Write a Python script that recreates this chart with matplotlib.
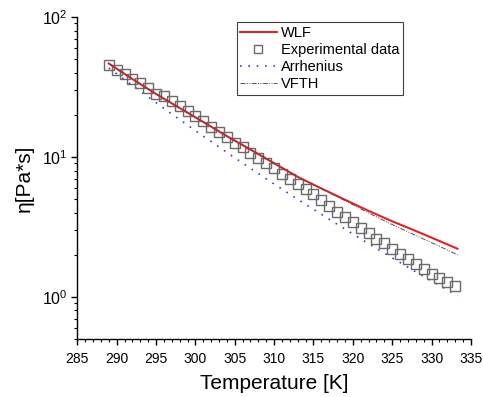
import matplotlib
matplotlib.use("Agg")
import matplotlib.pyplot as plt
from matplotlib.ticker import LogLocator, MultipleLocator, LogFormatterSciNotation

plt.rcParams['font.family'] = ['Liberation Sans', 'DejaVu Sans']
plt.rcParams['mathtext.default'] = 'regular'

# Experimental data
exp_T = list(range(289, 334))
exp_eta = [45.4, 41.8, 39.2, 36.1, 33.8, 31.1, 28.3, 27.3, 25.2, 23.1,
           21.3, 19.6, 18.2, 16.5, 15.2, 14.0, 12.6, 11.7, 10.6, 9.8,
           9.0, 8.3, 7.6, 7.0, 6.4, 5.9, 5.4, 4.9, 4.47, 4.07,
           3.73, 3.45, 3.13, 2.85, 2.61, 2.41, 2.21, 2.03, 1.86, 1.72,
           1.58, 1.46, 1.36, 1.27, 1.20]

# Model curves
model_T = [289, 292, 295, 298, 301, 304, 307, 310, 313, 316, 319, 322, 325, 328, 331, 333.3]
wlf_eta = [46.6, 36.1, 28.2, 22.4, 17.8, 14.1, 11.3, 9.02, 7.21, 5.96, 4.95, 4.12, 3.47, 2.96, 2.51, 2.21]
vfth_eta = [46.6, 36.1, 28.2, 22.4, 17.8, 14.1, 11.3, 9.02, 7.21, 5.93, 4.88, 3.98, 3.29, 2.75, 2.30, 2.00]

arr_T = [289, 293, 297, 301, 305, 309, 313, 317, 321, 325, 329, 333.3]
arr_eta = [43.3, 29.5, 20.3, 14.1, 9.87, 6.98, 4.98, 3.59, 2.60, 1.90, 1.40, 1.02]

xticks = [285, 290, 295, 300, 305, 310, 315, 320, 325, 330, 335]

fig = plt.figure(figsize=(4.83, 3.97), dpi=100)
ax = fig.add_axes([0.160, 0.146, 0.815, 0.811])

ax.plot(model_T, wlf_eta, color='#e42226', lw=1.5, label='WLF', zorder=4)
ax.plot(exp_T, exp_eta, linestyle='none', marker='s', markersize=6.5,
        markerfacecolor='none', markeredgecolor='#6a6a6a', markeredgewidth=1.0,
        label='Experimental data', zorder=3)
ax.plot(arr_T, arr_eta, color='#3a3ad0', lw=1.2, linestyle=(0, (1, 4)),
        label='Arrhenius', zorder=2)
ax.plot(model_T, vfth_eta, color='#505050', lw=0.7, linestyle=(0, (5, 1.5, 1, 1.5, 1, 1.5)),
        label='VFTH', zorder=5)

ax.set_yscale('log')
ax.set_ylim(0.5, 100)
ax.set_xlim(285, 335)
ax.set_xticks(xticks)
ax.xaxis.set_minor_locator(MultipleLocator(1))
ax.yaxis.set_major_locator(LogLocator(base=10))
ax.yaxis.set_minor_locator(LogLocator(base=10, subs=range(2, 10)))
ax.yaxis.set_major_formatter(LogFormatterSciNotation())

for s in ['top', 'right']:
    ax.spines[s].set_visible(False)
for s in ['left', 'bottom']:
    ax.spines[s].set_linewidth(1.0)

ax.tick_params(axis='both', which='major', direction='out', length=4, width=1.0)
ax.tick_params(axis='x', which='major', labelsize=10, pad=5)
ax.tick_params(axis='y', which='major', labelsize=11.5, pad=3)
ax.tick_params(axis='both', which='minor', direction='out', length=2.5, width=0.8)

ax.set_xlabel('Temperature [K]', fontsize=15, labelpad=6)
ax.set_ylabel('η[Pa*s]', fontsize=15, labelpad=6)

leg = ax.legend(loc='upper right', bbox_to_anchor=(0.828, 0.984), fontsize=10.5,
                frameon=True, fancybox=False, edgecolor='#404040', framealpha=1,
                handlelength=2.5, handletextpad=0.3, borderpad=0.25, labelspacing=0.22,
                borderaxespad=0, markerscale=0.8)
leg.get_frame().set_linewidth(0.8)

fig.savefig('out.png', dpi=100)
